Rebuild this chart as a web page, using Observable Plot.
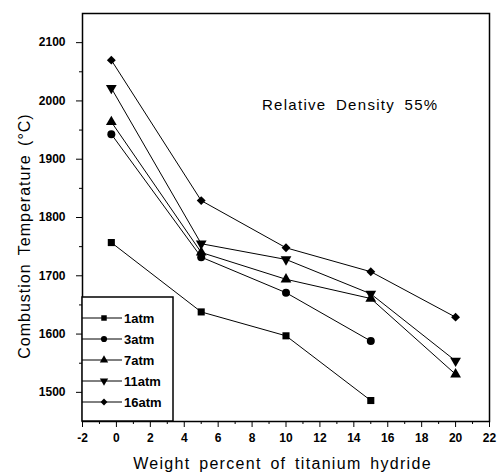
<!DOCTYPE html>
<html><head><meta charset="utf-8">
<script src="https://cdn.jsdelivr.net/npm/d3@7"></script>
<script src="https://cdn.jsdelivr.net/npm/@observablehq/plot@0.6"></script>
<style>
body{margin:0;background:#fff;}
#chart svg{font-family:"Liberation Sans",Arial,sans-serif;}
</style>
</head><body><div id="chart"></div>
<script>
// ---- data ----
const seriesNames = ["1atm", "3atm", "7atm", "11atm", "16atm"];
const hydrideWt = [-0.3, 5, 10, 15, 20];
const temp1atm  = [1757, 1638, 1597, 1486];
const temp3atm  = [1943, 1732, 1671, 1588];
const temp7atm  = [1964, 1740, 1694, 1661, 1531];
const temp11atm = [2022, 1755, 1728, 1669, 1554];
const temp16atm = [2070, 1829, 1748, 1707, 1629];
const xMajorTicks = [-2, 0, 2, 4, 6, 8, 10, 12, 14, 16, 18, 20, 22];
const xMinorTicks = [-1, 1, 3, 5, 7, 9, 11, 13, 15, 17, 19, 21];
const yMajorTicks = [1500, 1600, 1700, 1800, 1900, 2000, 2100];
const yMinorTicks = [1550, 1650, 1750, 1850, 1950, 2050];
const titleText = "Relative Density 55%";
const xLabel = "Weight percent of titanium hydride";
const yLabel = "Combustion Temperature (°C)";

const temps = [temp1atm, temp3atm, temp7atm, temp11atm, temp16atm];
const rows = seriesNames.flatMap((s, i) => temps[i].map((t, j) => ({series: s, x: hydrideWt[j], y: t})));

const sqrt3 = Math.sqrt(3);
const triangleDown = {
  draw(context, size) {
    const y = -Math.sqrt(size / (sqrt3 * 3));
    context.moveTo(0, -y * 2);
    context.lineTo(-sqrt3 * y, y);
    context.lineTo(sqrt3 * y, y);
    context.closePath();
  }
};
const symbolRange = ["square", "circle", "triangle", triangleDown, "diamond2"];
const d3Symbols = [d3.symbolSquare, d3.symbolCircle, d3.symbolTriangle, triangleDown, d3.symbolDiamond2];

const W = 504, H = 473, mL = 82, mR = 15, mT = 13, mB = 52;

const plot = Plot.plot({
  width: W, height: H,
  marginLeft: mL, marginRight: mR, marginTop: mT, marginBottom: mB,
  style: {fontFamily: "'Liberation Sans', Arial, sans-serif", background: "#fff", color: "#000"},
  x: {domain: [-2, 22]},
  y: {domain: [1450, 2150]},
  symbol: {domain: seriesNames, range: symbolRange},
  marks: [
    Plot.frame({stroke: "#000", strokeWidth: 1.5}),
    Plot.axisX({ticks: xMajorTicks, tickSize: 6, tickPadding: 6, fontSize: 12, fontWeight: "bold", label: null, tickFormat: d => String(d)}),
    Plot.axisX({ticks: xMinorTicks, tickSize: 3, tickFormat: () => "", label: null}),
    Plot.axisY({ticks: yMajorTicks, tickSize: 6, tickPadding: 11, fontSize: 12, fontWeight: "bold", label: null, tickFormat: d => String(d)}),
    Plot.axisY({ticks: yMinorTicks, tickSize: 3, tickFormat: () => "", label: null}),
    Plot.line(rows, {x: "x", y: "y", z: "series", stroke: "#000", strokeWidth: 1}),
    Plot.dot(rows, {x: "x", y: "y", symbol: "series", fill: "#000", stroke: "none", r: 4}),
    Plot.text([titleText], {frameAnchor: "top-right", dx: -51, dy: 92, fontSize: 15, textAnchor: "end", lineAnchor: "middle", fill: "#000"})
  ]
});

const svg = d3.select(plot);
svg.selectAll("text").filter(function(){ return this.textContent === titleText; })
  .style("letter-spacing", "1.3px").style("word-spacing", "4px");

// ---- axis titles ----
const frameCx = (mL + (W - mR)) / 2;
svg.append("text").attr("x", frameCx - 3).attr("y", H - mB + 42).attr("dy", "0.35em")
  .attr("text-anchor", "middle").attr("font-size", 16).attr("fill", "#000")
  .style("letter-spacing", "1.3px").style("word-spacing", "3px").text(xLabel);
svg.append("text").attr("transform", `translate(${mL - 58},${(mT + H - mB) / 2 + 19}) rotate(-90)`).attr("dy", "0.35em")
  .attr("text-anchor", "middle").attr("font-size", 16).attr("fill", "#000")
  .style("letter-spacing", "1px").style("word-spacing", "3px").text(yLabel);

// ---- legend (inside lower-left corner of frame) ----
const legLeft = mL, legBottom = H - mB;
const legRight = legLeft + 91, legTop = legBottom - 124;
const lg = svg.append("g").attr("class", "legend");
lg.append("rect").attr("x", legLeft).attr("y", legTop).attr("width", legRight - legLeft).attr("height", legBottom - legTop)
  .attr("fill", "#fff").attr("stroke", "#000").attr("stroke-width", 1.5);
seriesNames.forEach((name, i) => {
  const yy = legTop + 21 + i * 21;
  lg.append("line").attr("x1", legLeft).attr("x2", legLeft + 40).attr("y1", yy).attr("y2", yy).attr("stroke", "#000").attr("stroke-width", 1);
  lg.append("path").attr("d", d3.symbol(d3Symbols[i], 30)()).attr("transform", `translate(${legLeft + 22},${yy})`).attr("fill", "#000");
  lg.append("text").attr("x", legLeft + 42).attr("y", yy).attr("dy", "0.35em").attr("text-anchor", "start")
    .attr("font-size", 13).attr("font-weight", "bold").attr("fill", "#000").text(name);
});

document.getElementById("chart").appendChild(plot);
</script>
</body></html>
